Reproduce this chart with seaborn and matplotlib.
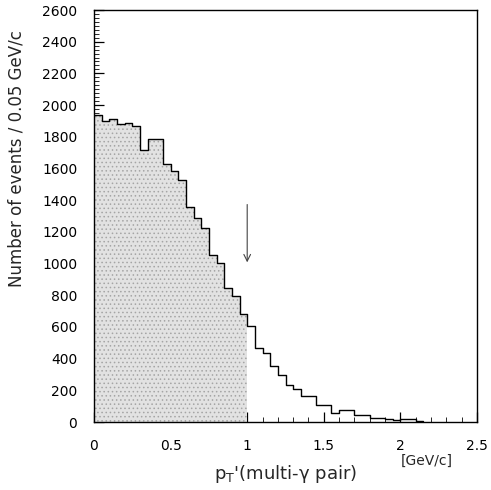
import numpy as np
import pandas as pd
import matplotlib
matplotlib.use("Agg")
import matplotlib.pyplot as plt
import seaborn as sns

# Bin counts (bin width 0.05 GeV/c, starting at 0)
bin_width = 0.05
counts = [1940, 1900, 1910, 1880, 1886, 1870, 1717, 1785, 1785, 1628,
          1585, 1528, 1356, 1288, 1226, 1053, 1003, 845, 795, 683,
          604, 465, 438, 356, 295, 231, 208, 163, 163, 108,
          108, 55, 76, 76, 45, 45, 28, 24, 20, 10,
          16, 16, 6]
shade_limit = 1.0          # shaded region ends at pT' = 1 GeV/c
arrow_x = 1.0
arrow_from, arrow_to = 1390, 990
x_ticks = [0, 0.5, 1, 1.5, 2, 2.5]
x_tick_labels = ["0", "0.5", "1", "1.5", "2", "2.5"]
y_ticks = list(range(0, 2601, 200))

edges = [round(i * bin_width, 4) for i in range(len(counts) + 1)]
centers = [(a + b) / 2 for a, b in zip(edges[:-1], edges[1:])]
df = pd.DataFrame({"pt": centers, "n": counts})
df_shade = df[df["pt"] < shade_limit]
shade_edges = [e for e in edges if e <= shade_limit + 1e-9]

sns.set_style("ticks")
plt.rcParams["font.family"] = ["DejaVu Sans"]
plt.rcParams["hatch.linewidth"] = 0.6

fig = plt.figure(figsize=(4.91, 4.90), dpi=100)
ax = fig.add_axes([94 / 491, 1 - 422 / 490, (477 - 94) / 491, (422 - 10) / 490])

# shaded part (0 - 1 GeV/c), stippled
sns.histplot(data=df_shade, x="pt", weights="n", bins=shade_edges,
             element="step", fill=True, facecolor="#e2e2e2", edgecolor="#a5a5a5",
             hatch="....", alpha=1.0, linewidth=0, ax=ax)
# full outline
sns.histplot(data=df, x="pt", weights="n", bins=edges, element="step", fill=False,
             color="black", linewidth=1.0, ax=ax)

ax.annotate("", xy=(arrow_x, arrow_to), xytext=(arrow_x, arrow_from),
            arrowprops=dict(arrowstyle="->", color="#444444", lw=0.8,
                            mutation_scale=12))

ax.set_xlim(0, 2.5)
ax.set_ylim(0, 2600)
ax.set_xticks(x_ticks)
ax.set_xticklabels(x_tick_labels)
ax.set_xticks(np.arange(0, 2.51, 0.1), minor=True)
ax.set_yticks(y_ticks)
ax.set_yticks(np.arange(0, 2601, 25), minor=True)
ax.tick_params(axis="both", which="major", direction="in", length=7, width=0.9,
               labelsize=10, colors="black")
ax.tick_params(axis="x", which="major", pad=12)
ax.tick_params(axis="y", which="major", pad=12)
ax.tick_params(axis="both", which="minor", direction="in", length=3.5, width=0.7)
for sp in ax.spines.values():
    sp.set_visible(True)
    sp.set_linewidth(1.0)
    sp.set_color("black")

ax.set_xlabel(r"p$_\mathregular{T}$'(multi-γ pair)", fontsize=13)
ax.xaxis.set_label_coords(0.5, -0.1)
ax.set_ylabel("Number of events / 0.05 GeV/c", fontsize=12)
ax.yaxis.set_label_coords(-0.18, 0.64)
ax.text(2.17, -0.095, "[GeV/c]", transform=ax.get_xaxis_transform(),
        fontsize=10, ha="center", va="center")

fig.savefig("out.png", dpi=100)
